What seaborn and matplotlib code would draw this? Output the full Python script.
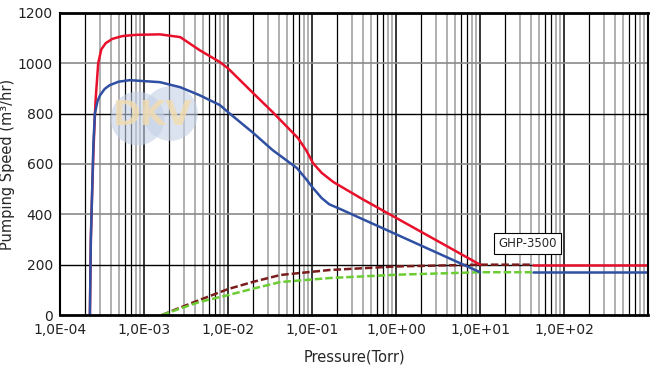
import matplotlib
matplotlib.use("Agg")
import matplotlib.pyplot as plt
import seaborn as sns
import numpy as np

# pumping speed curves (pressure in Torr, speed in m3/hr)
red_p = [2.27e-4, 2.33e-4, 2.4e-4, 2.5e-4, 2.65e-4, 2.85e-4, 3.1e-4, 3.5e-4, 4.2e-4, 5.5e-4,
         8.0e-4, 1.55e-3, 2.7e-3, 4.6e-3, 8.0e-3, 1.0e-2, 2.0e-2, 3.4e-2, 6.8e-2, 8.5e-2,
         1.03e-1, 1.3e-1, 1.8e-1, 2.5e-1, 4.0e-1, 1.0e1]
red_s = [0, 300, 457, 650, 850, 1000, 1055, 1080, 1097, 1108,
         1113, 1115, 1104, 1052, 1005, 980, 881, 806, 703, 655,
         603, 565, 528, 500, 460, 200]

blue_p = [2.27e-4, 2.33e-4, 2.4e-4, 2.5e-4, 2.6e-4, 2.8e-4, 3.0e-4, 3.4e-4, 3.9e-4, 5.0e-4,
          6.8e-4, 1.55e-3, 2.7e-3, 4.6e-3, 8.0e-3, 1.0e-2, 2.0e-2, 3.4e-2, 6.6e-2, 8.5e-2,
          1.03e-1, 1.3e-1, 1.6e-1, 2.2e-1, 1.0e1]
blue_s = [0, 300, 457, 680, 800, 850, 873, 898, 913, 927,
          933, 925, 905, 873, 834, 806, 723, 655, 584, 540,
          504, 465, 440, 420, 170]

brown_p = [1.64e-3, 2.5e-3, 4.6e-3, 1.0e-2, 2.0e-2, 4.2e-2, 1.64e-1, 1.0e0, 1.0e1, 4.3e1]
brown_s = [0, 25, 60, 103, 132, 159, 179, 193, 200, 200]

green_p = [1.64e-3, 2.5e-3, 4.6e-3, 1.0e-2, 2.0e-2, 4.2e-2, 1.64e-1, 1.0e0, 1.0e1, 4.3e1]
green_s = [0, 22, 52, 79, 105, 131, 147, 160, 170, 170]

red_tail_p = [4.3e1, 1.0e3]
red_tail_s = [200, 200]
blue_tail_p = [4.3e1, 1.0e3]
blue_tail_s = [170, 170]

xticks = [1e-4, 1e-3, 1e-2, 1e-1, 1e0, 1e1, 1e2]
xlabels = ["1,0E-04", "1,0E-03", "1,0E-02", "1,0E-01", "1,0E+00", "1,0E+01", "1,0E+02"]
yticks = [0, 200, 400, 600, 800, 1000, 1200]

sns.set_style("white")
plt.rcParams['font.family'] = ['DejaVu Sans']

fig = plt.figure(figsize=(6.54, 3.70), dpi=100)
ax = fig.add_axes([0.0917, 0.1486, 0.8993, 0.8164])
ax.set_xscale("log")
ax.set_xlim(1e-4, 1e3)
ax.set_ylim(0, 1200)

# grid: decades black, minor lines mixed black / gray
for d in range(-4, 3):
    for m in range(1, 10):
        v = m * 10.0 ** d
        if m == 1:
            ax.axvline(v, color="black", lw=1.1, zorder=0)
        elif m in (2, 6, 7):
            ax.axvline(v, color="black", lw=0.9, zorder=0)
        else:
            ax.axvline(v, color="#9a9a9a", lw=1.1, zorder=0)
for y in [200, 800]:
    ax.axhline(y, color="black", lw=1.0, zorder=0)
for y in [400, 600, 1000]:
    ax.axhline(y, color="#8a8a8a", lw=1.2, zorder=0)

# faint logo watermark
ax.scatter([0.131], [0.652], s=1500, color="#c3d0e6", alpha=0.6, transform=ax.transAxes, zorder=1, lw=0)
ax.scatter([0.187], [0.668], s=1550, color="#c3d0e6", alpha=0.6, transform=ax.transAxes, zorder=1, lw=0)
ax.text(0.158, 0.66, "DKV", transform=ax.transAxes, ha="center", va="center",
        fontsize=24, fontweight="bold", color="#f2dcae", alpha=0.8, zorder=1)

sns.lineplot(x=brown_p, y=brown_s, ax=ax, color="#7b1c1c", lw=1.8, linestyle=(0, (3, 1.2)), zorder=2)
sns.lineplot(x=green_p, y=green_s, ax=ax, color="#6ccc33", lw=1.8, linestyle=(0, (3, 1.2)), zorder=2)
sns.lineplot(x=red_p, y=red_s, ax=ax, color="#e8102a", lw=1.8, zorder=3, sort=False)
sns.lineplot(x=blue_p, y=blue_s, ax=ax, color="#2f4fa2", lw=1.8, zorder=3, sort=False)
sns.lineplot(x=red_tail_p, y=red_tail_s, ax=ax, color="#e8102a", lw=1.8, zorder=3)
sns.lineplot(x=blue_tail_p, y=blue_tail_s, ax=ax, color="#2f4fa2", lw=1.8, zorder=3)

ax.text(37, 285, "GHP-3500", ha="center", va="center", fontsize=8.5,
        bbox=dict(boxstyle="square,pad=0.35", fc="white", ec="black", lw=0.8), zorder=4)

ax.set_xticks(xticks)
ax.set_xticklabels(xlabels)
ax.set_xticks([], minor=True)
ax.set_yticks(yticks)
ax.tick_params(axis="both", length=0, labelsize=10, colors="#222222")
ax.tick_params(axis="x", pad=6)
ax.tick_params(axis="y", pad=5)
ax.set_xlabel("Pressure(Torr)", fontsize=10.5, labelpad=9)
ax.set_ylabel("Pumping Speed (m³/hr)", fontsize=10.5, labelpad=2)

for side in ["top", "bottom"]:
    ax.spines[side].set_linewidth(2.0)
for side in ["left", "right"]:
    ax.spines[side].set_linewidth(1.5)
for s in ax.spines.values():
    s.set_color("black")
    s.set_zorder(5)

fig.savefig("out.png", dpi=100)
